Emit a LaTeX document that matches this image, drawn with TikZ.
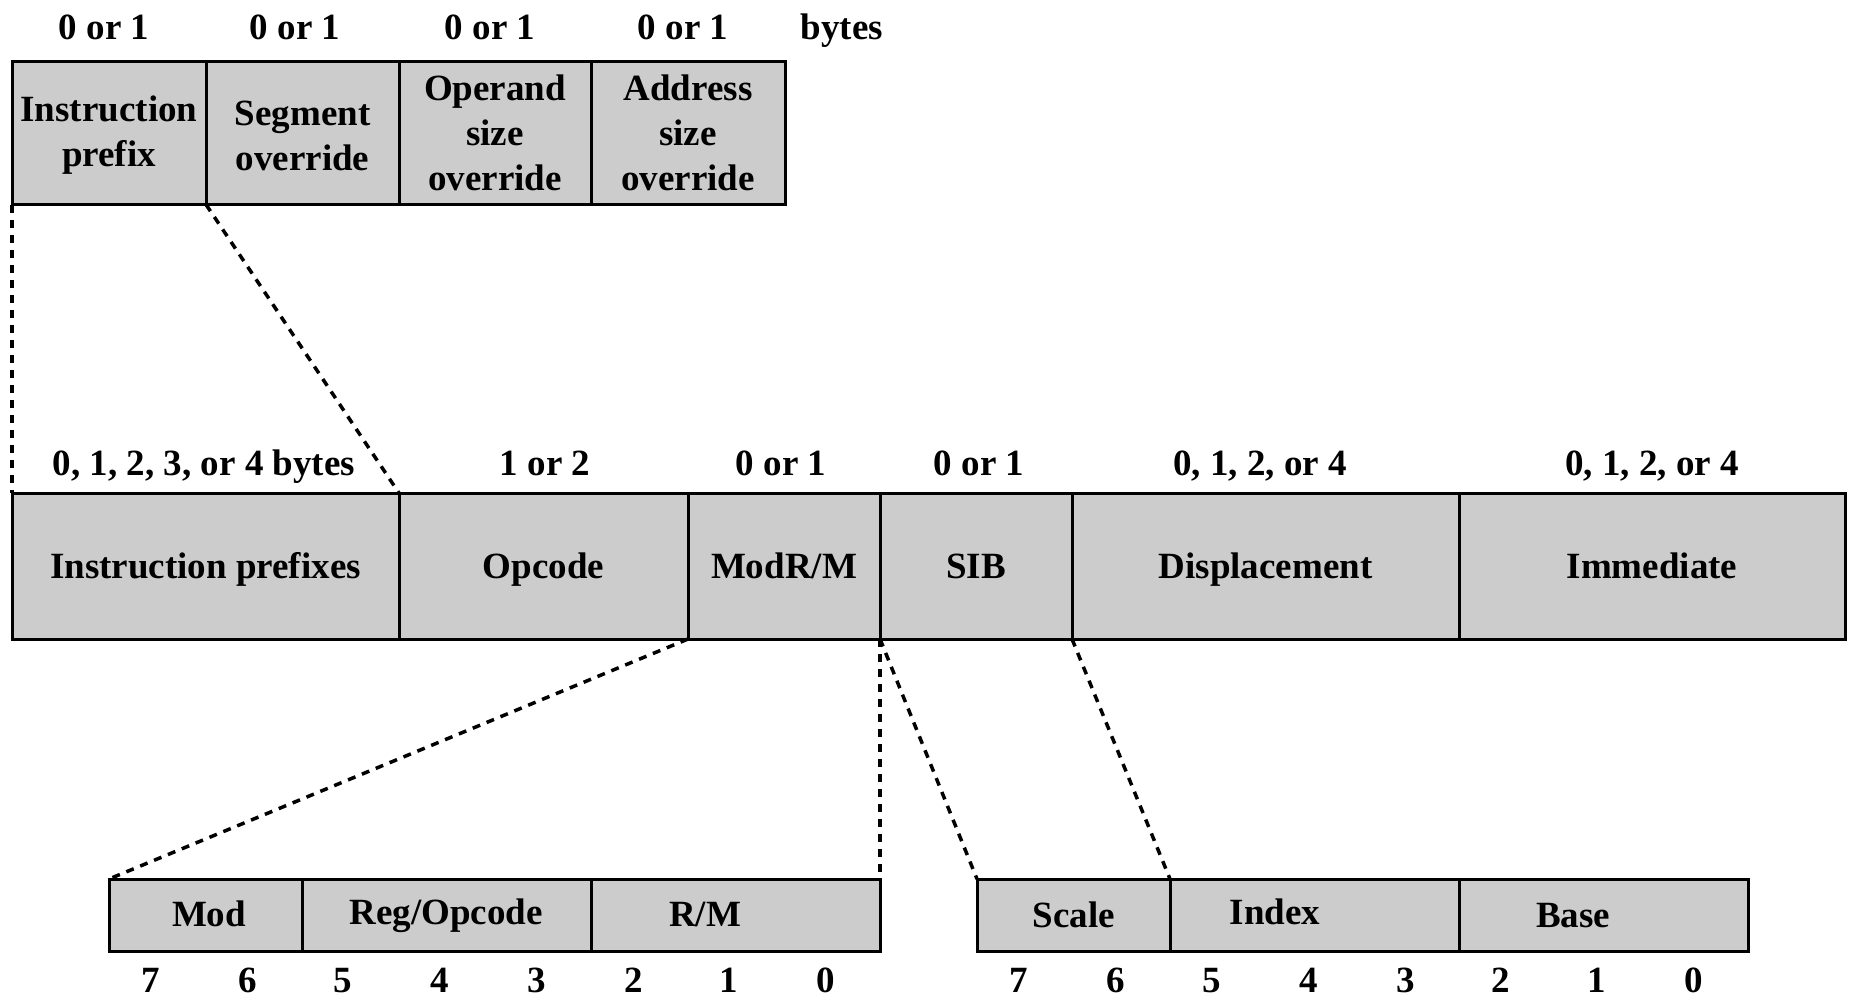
\documentclass[tikz,border=0pt]{standalone}
\usepackage{fontspec}
\setmainfont{Liberation Serif}
\definecolor{cellgray}{RGB}{204,204,204}
\begin{document}
\begin{tikzpicture}[x=1pt,y=-1pt,
  every node/.style={font=\fontsize{37}{45}\selectfont\bfseries, inner sep=0pt, outer sep=0pt},
  cell/.style={draw=black, fill=cellgray, line width=3pt, rectangle, align=center},
  one/.style={text height=30pt, text depth=6pt},
  dashline/.style={line width=3.5pt, dash pattern=on 8pt off 7pt},
  lbl/.style={anchor=center, text height=30pt, text depth=6pt},
  bit/.style={anchor=center, text height=26pt, text depth=0pt}]
\useasboundingbox (0,0) rectangle (1850,997);
% top row
\node[cell, minimum width=194pt, minimum height=143pt] (ipx) at (109,133) {\rule{0pt}{30pt}Instruction\\prefix};
\node[cell, minimum width=193pt, minimum height=143pt] (seg) at (302.5,133) {\rule{0pt}{30pt}Segment\\override};
\node[cell, minimum width=192pt, minimum height=143pt] (ops) at (495,133) {Operand\\size\\override};
\node[cell, minimum width=194pt, minimum height=143pt] (ads) at (688,133) {Address\\size\\override};
\node[lbl] (t1) at (104,27) {0 or 1};
\node[lbl] (t2) at (295,27) {0 or 1};
\node[lbl] (t3) at (490,27) {0 or 1};
\node[lbl] (t4) at (683,27) {0 or 1};
\node[lbl] (t5) at (842,27) {bytes};
% middle row
\node[cell, one, minimum width=387pt, minimum height=146pt] (pre) at (205.5,566) {Instruction prefixes};
\node[cell, one, minimum width=289pt, minimum height=146pt] (opc) at (543.5,566) {Opcode};
\node[cell, one, minimum width=192pt, minimum height=146pt] (mrm) at (784,566) {ModR/M};
\node[cell, one, minimum width=192pt, minimum height=146pt] (sib) at (976,566) {SIB};
\node[cell, one, minimum width=387pt, minimum height=146pt] (dsp) at (1265.5,566) {Displacement};
\node[cell, one, minimum width=386pt, minimum height=146pt] (imm) at (1652,566) {Immediate};
\node[lbl] (m1) at (204,463) {0, 1, 2, 3, or 4 bytes};
\node[lbl] (m2) at (545,463) {1 or 2};
\node[lbl] (m3) at (781,463) {0 or 1};
\node[lbl] (m4) at (979,463) {0 or 1};
\node[lbl] (m5) at (1260,463) {0, 1, 2, or 4};
\node[lbl] (m6) at (1652,463) {0, 1, 2, or 4};
% bottom left
\node[cell, minimum width=193pt, minimum height=72pt] (mod) at (205.5,915) {};
\node[lbl] (modt) at (209,914) {Mod};
\node[cell, minimum width=289pt, minimum height=72pt] (reg) at (446.5,915) {};
\node[lbl] (regt) at (446,912) {Reg/Opcode};
\node[cell, minimum width=289pt, minimum height=72pt] (rm) at (735.5,915) {};
\node[lbl] (rmt) at (705,914) {R/M};
% bottom right
\node[cell, minimum width=193pt, minimum height=72pt] (scl) at (1073.5,915) {};
\node[lbl] (sclt) at (1074,915) {Scale};
\node[cell, minimum width=289pt, minimum height=72pt] (idx) at (1314.5,915) {};
\node[lbl] (idxt) at (1275,912) {Index};
\node[cell, minimum width=289pt, minimum height=72pt] (bas) at (1603.5,915) {};
\node[lbl] (bast) at (1573,915) {Base};
% bit numbers
\foreach \x/\n [count=\i] in {151/7,248/6,343/5,440/4,537/3,634/2,729/1,826/0}
  \node[bit] (bl\i) at (\x,979) {\n};
\foreach \x/\n [count=\i] in {1019/7,1116/6,1212/5,1309/4,1406/3,1501/2,1597/1,1694/0}
  \node[bit] (br\i) at (\x,979) {\n};
% dashed connectors
\draw[dashline] (ipx.south west) -- (pre.north west);
\draw[dashline] (ipx.south east) -- (pre.north east);
\draw[dashline] (mrm.south west) -- (mod.north west);
\draw[dashline] (mrm.south east) -- (rm.north east);
\draw[dashline] (sib.south west) -- (scl.north west);
\draw[dashline] (sib.south east) -- (scl.north east);
\end{tikzpicture}
\end{document}
